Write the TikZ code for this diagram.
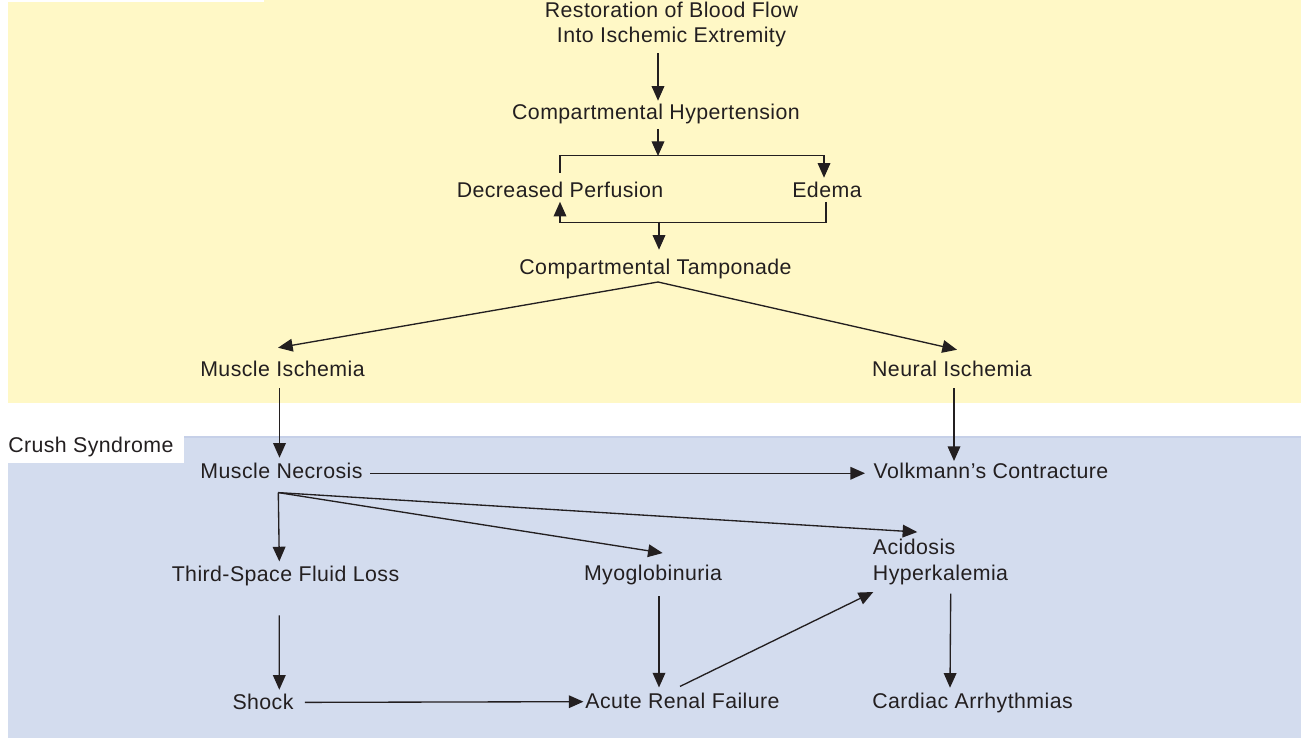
\documentclass[tikz,border=0pt]{standalone}
\usepackage{fontspec}
\setmainfont[LetterSpace=2]{Liberation Sans}
\usetikzlibrary{arrows.meta,calc}
\definecolor{ylw}{HTML}{FFF8C6}
\definecolor{blu}{HTML}{D3DCEE}
\definecolor{bluedge}{HTML}{C6D0E8}
\definecolor{ink}{HTML}{231F20}
\tikzset{
  lbl/.style={inner sep=0pt, anchor=base, text height=11.25pt, text depth=3.4pt, text=ink,
    font=\fontsize{16pt}{19pt}\selectfont},
  lblw/.style={lbl, anchor=base west},
  conn/.style={draw=ink, line width=1pt},
  arr/.style={conn, -{Triangle[length=11pt,width=9.5pt]}},
}
\begin{document}
\begin{tikzpicture}[x=0.75pt,y=-0.75pt]
\useasboundingbox (0,0) rectangle (1301,738);
% backgrounds
\fill[ylw] (8,0) rectangle (1301,403);
\fill[white] (0,0) rectangle (264,2);
\fill[blu] (8,436) rectangle (1301,738);
\fill[bluedge] (8,436) rectangle (1301,438);
\fill[white] (0,436) rectangle (184,463);
% texts
\node[lblw] (cs) at (8,452.7) {Crush Syndrome};
\node[lbl] (r1) at (671.5,17.5) {Restoration of Blood Flow};
\node[lbl] (r2) at (671.5,43) {Into Ischemic Extremity};
\node[lbl] (hyp) at (656,120) {Compartmental Hypertension};
\node[lbl] (dp) at (560,197) {Decreased Perfusion};
\node[lbl] (ed) at (827,197) {Edema};
\node[lbl] (tam) at (655.5,274) {Compartmental Tamponade};
\node[lbl] (mi) at (282.5,376) {Muscle Ischemia};
\node[lbl] (ni) at (952,376) {Neural Ischemia};
\node[lbl] (mn) at (281.5,478) {Muscle Necrosis};
\node[lbl] (vc) at (991,478) {Volkmann’s Contracture};
\node[lbl] (ts) at (285.5,581) {Third-Space Fluid Loss};
\node[lbl] (myo) at (653,580.7) {Myoglobinuria};
\node[lblw] (ac) at (872.7,554.3) {Acidosis};
\node[lblw] (hk) at (872.7,580.7) {Hyperkalemia};
\node[lbl] (sh) at (263,709) {Shock};
\node[lbl] (arf) at (682.5,708.3) {Acute Renal Failure};
\node[lblw] (ca) at (872,708) {Cardiac Arrhythmias};
% connectors
\draw[arr] ($(r2.south)+(-13.5,5.5)$) -- ($(hyp.north)+(2,-4)$);
\draw[arr] ($(hyp.south)+(2,4)$) -- ($(hyp.south)+(2,31.2)$);
\draw[arr] ($(dp.north)+(0,-9)$) |- ($(ed.north)+(-3,-26.3)$) -- ($(ed.north)+(-3,-4)$);
\draw[arr] ($(ed.south)+(-1,0)$) |- ($(dp.south)+(0,20.5)$) -- (dp.south);
\draw[arr] ($(tam.north)+(3.5,-37)$) -- ($(tam.north)+(3.5,-9)$);
\coordinate (apex) at ($(tam.south)+(2.5,3.2)$);
\draw[arr] (apex) -- ($(mi.north)+(-4.5,-13)$);
\draw[arr] (apex) -- ($(ni.north)+(5,-11)$);
\draw[arr] ($(mi.south)+(-3,7.5)$) -- ($(mn.north)+(-2,-5)$);
\draw[arr] ($(ni.south)+(2,7.5)$) -- ($(ni.south)+(2,80.2)$);
\draw[arr] ($(mn.east)+(7.7,0.5)$) -- ($(vc.west)+(-8.4,0.5)$);
\coordinate (mo) at ($(mn.south)+(-3.2,9.8)$);
\draw[arr] (mo) -- ($(ts.north)+(-6.2,-4.3)$);
\draw[arr] (mo) -- ($(myo.north)+(9.7,-12.4)$);
\draw[arr] (mo) -- ($(ac.north west)+(44.6,-7)$);
\draw[arr] ($(ts.south)+(-6.2,29.5)$) -- ($(sh.north)+(16.3,-4)$);
\draw[arr] ($(sh.east)+(11,-1.4)$) -- ($(arf.west)+(-1.7,-1.4)$);
\draw[arr] ($(myo.south)+(6,10.8)$) -- ($(arf.north)+(-23.5,-5.6)$);
\draw[arr] ($(arf.north)+(-2.5,-6.6)$) -- ($(hk.south west)+(0.6,6.5)$);
\draw[arr] ($(hk.south west)+(78,8)$) -- ($(ca.north west)+(78,-5)$);
\end{tikzpicture}
\end{document}
